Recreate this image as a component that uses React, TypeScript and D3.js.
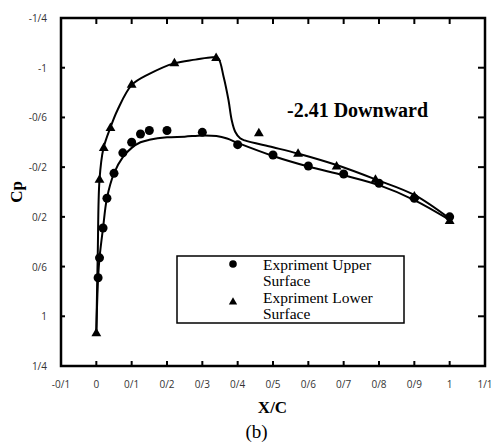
import React from "react";
import * as d3 from "d3";

// Experimental data
const upperX = [0.005, 0.009, 0.019, 0.03, 0.05, 0.075, 0.1, 0.125, 0.15, 0.2, 0.3, 0.4, 0.5, 0.6, 0.7, 0.8, 0.9, 1.0];
const upperCp = [0.69, 0.53, 0.29, 0.05, -0.15, -0.315, -0.4, -0.467, -0.495, -0.495, -0.48, -0.381, -0.298, -0.209, -0.145, -0.07, 0.05, 0.2];

const lowerX = [0, 0.009, 0.021, 0.04, 0.1, 0.221, 0.339, 0.46, 0.571, 0.68, 0.79, 0.9, 1.0];
const lowerCp = [1.137, -0.097, -0.352, -0.513, -0.861, -1.035, -1.076, -0.472, -0.306, -0.204, -0.097, 0.038, 0.235];

// Computed curves
const cfdUpperX = [0, 0.005, 0.009, 0.019, 0.03, 0.05, 0.075, 0.1, 0.125, 0.15, 0.2, 0.25, 0.3, 0.34, 0.37, 0.4, 0.5, 0.6, 0.7, 0.8, 0.9, 1.0];
const cfdUpperCp = [1.13, 0.69, 0.53, 0.29, 0.05, -0.15, -0.28, -0.355, -0.4, -0.42, -0.44, -0.445, -0.455, -0.45, -0.43, -0.395, -0.29, -0.205, -0.135, -0.055, 0.065, 0.225];

const cfdLowerX = [0, 0.004, 0.009, 0.02, 0.04, 0.06, 0.1, 0.15, 0.22, 0.28, 0.33, 0.345, 0.36, 0.374, 0.383, 0.393, 0.407, 0.42, 0.5, 0.57, 0.68, 0.79, 0.9, 1.0];
const cfdLowerCp = [1.13, 0.5, -0.1, -0.35, -0.52, -0.66, -0.86, -0.95, -1.035, -1.065, -1.085, -1.075, -0.93, -0.74, -0.58, -0.485, -0.432, -0.415, -0.36, -0.31, -0.217, -0.102, 0.024, 0.215];

const xTicks = [-0.1, 0, 0.1, 0.2, 0.3, 0.4, 0.5, 0.6, 0.7, 0.8, 0.9, 1.0, 1.1];
const yTicks = [-1.4, -1, -0.6, -0.2, 0.2, 0.6, 1, 1.4];

const legendLabels = ["Expriment Upper", "Surface", "Expriment Lower", "Surface"];
const annotation = "-2.41 Downward";

const fmt = (v: number) => String(+v.toFixed(1)).replace(".", "/");

export default function App() {
  const left = 61, right = 485, top = 18, bottom = 366;
  const x = d3.scaleLinear().domain([-0.1, 1.1]).range([left, right]);
  const y = d3.scaleLinear().domain([-1.4, 1.4]).range([top, bottom]);

  const line = d3
    .line<[number, number]>()
    .x((d) => x(d[0]))
    .y((d) => y(d[1]))
    .curve(d3.curveCatmullRom.alpha(0.5));

  const upLine = line(cfdUpperX.map((v, i) => [v, cfdUpperCp[i]] as [number, number])) || "";
  const loLine = line(cfdLowerX.map((v, i) => [v, cfdLowerCp[i]] as [number, number])) || "";

  const tri = d3.symbol().type(d3.symbolTriangle).size(42)() || "";
  const triLeg = d3.symbol().type(d3.symbolTriangle).size(30)() || "";

  const serif = "'Liberation Serif', 'Times New Roman', serif";
  const sans = "'Open Sans', sans-serif";

  return (
    <svg width={496} height={443} style={{ position: "absolute", left: 0, top: 0 }}>
      <rect x={0} y={0} width={496} height={443} fill="#fff" />
      {/* ticks */}
      {xTicks.slice(1, -1).map((t) => (
        <g key={"xt" + t}>
          <line x1={x(t)} x2={x(t)} y1={top} y2={top + 6} stroke="#000" strokeWidth={2} />
          <line x1={x(t)} x2={x(t)} y1={bottom} y2={bottom - 5} stroke="#000" strokeWidth={2} />
        </g>
      ))}
      {yTicks.slice(1, -1).map((t) => (
        <g key={"yt" + t}>
          <line x1={left} x2={left + 4} y1={y(t)} y2={y(t)} stroke="#000" strokeWidth={2} />
          <line x1={right} x2={right - 7} y1={y(t)} y2={y(t)} stroke="#000" strokeWidth={2} />
        </g>
      ))}
      {/* frame */}
      <rect x={left} y={top} width={right - left} height={bottom - top} fill="none" stroke="#000" strokeWidth={2.5} />
      {/* tick labels */}
      {xTicks.map((t) => (
        <text key={"xl" + t} x={x(t)} y={388} textAnchor="middle" fontFamily={sans} fontSize={10} fill="#333">
          {fmt(t)}
        </text>
      ))}
      {yTicks.map((t) => (
        <text key={"yl" + t} x={47} y={y(t)} textAnchor="end" dominantBaseline="central" fontFamily={sans} fontSize={10} fill="#333">
          {fmt(t)}
        </text>
      ))}
      {/* curves */}
      <path d={upLine} fill="none" stroke="#000" strokeWidth={2} />
      <path d={loLine} fill="none" stroke="#000" strokeWidth={2} />
      {/* markers */}
      {upperX.map((v, i) => (
        <circle key={"u" + i} cx={x(v)} cy={y(upperCp[i])} r={4.5} fill="#000" />
      ))}
      {lowerX.map((v, i) => (
        <path key={"l" + i} d={tri} transform={`translate(${x(v)},${y(lowerCp[i])})`} fill="#000" />
      ))}
      {/* annotation */}
      <text x={287} y={117} fontFamily={serif} fontWeight="bold" fontSize={20} fill="#000">
        {annotation}
      </text>
      {/* legend */}
      <rect x={177} y={256} width={227} height={67} fill="#fff" stroke="#000" strokeWidth={1.5} />
      <circle cx={233} cy={264} r={3.8} fill="#000" />
      <path d={triLeg} transform="translate(233,302)" fill="#000" />
      {legendLabels.map((l, i) => (
        <text key={"lg" + i} x={263} y={270 + i * 16.4} fontFamily={serif} fontSize={15.5} fill="#000">
          {l}
        </text>
      ))}
      {/* axis titles */}
      <text x={272.5} y={413} textAnchor="middle" fontFamily={serif} fontWeight="bold" fontSize={17} fill="#000">
        X/C
      </text>
      <text x={256.5} y={438} textAnchor="middle" fontFamily={serif} fontSize={19} fill="#000">
        (b)
      </text>
      <text transform="translate(22,192) rotate(-90)" textAnchor="middle" fontFamily={serif} fontWeight="bold" fontSize={17} fill="#000">
        Cp
      </text>
    </svg>
  );
}
